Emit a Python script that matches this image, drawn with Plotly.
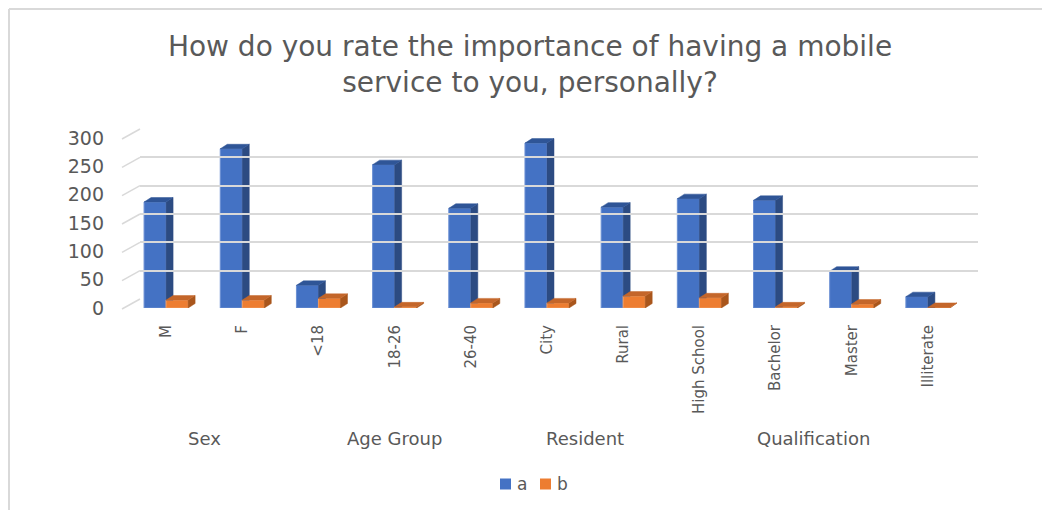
import plotly.graph_objects as go

# Survey responses by demographic group
categories = ["M", "F", "<18", "18-26", "26-40", "City", "Rural",
              "High School", "Bachelor", "Master", "Illiterate"]
groups = ["Sex", "Age Group", "Resident", "Qualification"]
group_members = [["M", "F"], ["<18", "18-26", "26-40"], ["City", "Rural"],
                 ["High School", "Bachelor", "Master", "Illiterate"]]
series_names = ["a", "b"]
series_a = [187, 281, 40, 253, 176, 291, 178, 193, 190, 65, 20]
series_b = [14, 14, 17, 2, 9, 9, 21, 18, 2, 7, 1]
y_ticks = [0, 50, 100, 150, 200, 250, 300]

W, H = 1042, 510
TEXT = "#595959"
FONT = "DejaVu Sans"

# front plane (bars) and back wall (gridlines), in pixels
FX0, FX1 = 128, 966
FY0, FY1 = 308, 138          # value 0 and value 300
BX0, BX1 = 140, 978
BY0, BY1 = 299, 129
YMAX = 300

n = len(categories)
bar_w = 0.289                # width of one bar in category units
cat_px = (FX1 - FX0) / n
dxu = 7 / cat_px             # depth offset of the 3-D faces
dyu = 4.5 * YMAX / (FY0 - FY1)

colors = {
    "a": dict(front="#4472C4", side="#2C4B82", top="#2F5597", edge="#6A8FD3"),
    "b": dict(front="#ED7D31", side="#A9561C", top="#C4662A", edge="#F19A5C"),
}

fig = go.Figure()

# invisible trace so the back-wall subplot is drawn
fig.add_trace(go.Scatter(x=[0], y=[0], xaxis="x2", yaxis="y2", mode="markers",
                         marker=dict(opacity=0), showlegend=False, hoverinfo="skip"))

# front faces
for name, vals in zip(series_names, (series_a, series_b)):
    c = colors[name]
    fig.add_trace(go.Bar(
        x=list(range(n)), y=vals, name=name, showlegend=False,
        marker=dict(color=c["front"], line=dict(color=c["edge"], width=1)),
        width=bar_w, offset=-bar_w if name == "a" else 0,
    ))


def poly(xs, ys, color):
    fig.add_trace(go.Scatter(x=xs + [xs[0]], y=ys + [ys[0]], fill="toself",
                             fillcolor=color, mode="lines",
                             line=dict(color=color, width=0.5),
                             showlegend=False, hoverinfo="skip"))


# side and top faces, series a first so series b sits in front of it
for i in range(n):
    a, b = series_a[i], series_b[i]
    ca = colors["a"]
    x0, x1 = i - bar_w, i
    poly([x1, x1 + dxu, x1 + dxu, x1], [b, b, a + dyu, a], ca["side"])
    poly([x0, x1, x1 + dxu, x0 + dxu], [a, a, a + dyu, a + dyu], ca["top"])
for i in range(n):
    b = series_b[i]
    cb = colors["b"]
    x0, x1 = i, i + bar_w
    poly([x1, x1 + dxu, x1 + dxu, x1], [0, dyu, b + dyu, b], cb["side"])
    poly([x0, x1, x1 + dxu, x0 + dxu], [b, b, b + dyu, b + dyu], cb["top"])

shapes = []
# wall edges from the front axis to the back wall
k = (FY0 - FY1) / YMAX
for v in y_ticks:
    yf = FY0 + 1 - v * k
    yb = BY0 - v * k
    shapes.append(dict(type="line", xref="paper", yref="paper",
                       x0=122 / W, y0=(H - yf) / H, x1=BX0 / W, y1=(H - yb) / H,
                       line=dict(color="#D9D9D9", width=1.5)))
# chart-area border (top and left)
shapes.append(dict(type="line", xref="paper", yref="paper", x0=9 / W, x1=1,
                   y0=(H - 9) / H, y1=(H - 9) / H, line=dict(color="#D9D9D9", width=2)))
shapes.append(dict(type="line", xref="paper", yref="paper", x0=9 / W, x1=9 / W,
                   y0=0, y1=(H - 9) / H, line=dict(color="#D9D9D9", width=2)))

annotations = []
for g, members in zip(groups, group_members):
    idx = [categories.index(m) for m in members]
    annotations.append(dict(text=g, x=sum(idx) / len(idx), xref="x",
                            y=(H - 438) / H, yref="paper", yanchor="middle",
                            showarrow=False,
                            font=dict(family=FONT, size=18, color=TEXT)))

# legend: swatch + label for each series
LEG_Y = 484
for name, sx in zip(series_names, (500, 540)):
    shapes.append(dict(type="rect", xref="paper", yref="paper",
                       x0=sx / W, x1=(sx + 11) / W,
                       y0=(H - LEG_Y - 5.5) / H, y1=(H - LEG_Y + 5.5) / H,
                       fillcolor=colors[name]["front"], line=dict(width=0)))
    annotations.append(dict(text=name, x=(sx + 15) / W, xref="paper", xanchor="left",
                            y=(H - LEG_Y) / H, yref="paper", yanchor="middle",
                            showarrow=False,
                            font=dict(family=FONT, size=17, color=TEXT)))

fig.update_layout(
    width=W, height=H,
    margin=dict(l=0, r=0, t=0, b=0, autoexpand=False),
    paper_bgcolor="white", plot_bgcolor="rgba(0,0,0,0)",
    barmode="overlay",
    title=dict(text="How do you rate the importance of having a mobile<br>service to you, personally?",
               x=530 / W, xanchor="center", y=(H - 56) / H, yanchor="middle",
               font=dict(family=FONT, size=28, color=TEXT)),
    xaxis=dict(domain=[FX0 / W, FX1 / W], range=[-0.5, n - 0.5],
               tickvals=list(range(n)), ticktext=categories, tickangle=-90,
               tickfont=dict(family=FONT, size=15, color=TEXT),
               showgrid=False, zeroline=False, showline=False, ticks="",
               ticklabelstandoff=13, anchor="y", automargin=False),
    yaxis=dict(domain=[(H - FY0) / H, (H - FY1) / H], range=[0, YMAX],
               tickvals=y_ticks, tickfont=dict(family=FONT, size=19, color=TEXT),
               showgrid=False, zeroline=False, showline=False, ticks="",
               ticklabelstandoff=23, anchor="x", automargin=False),
    xaxis2=dict(domain=[BX0 / W, BX1 / W], range=[-0.5, n - 0.5], anchor="y2",
                showgrid=False, zeroline=False, showticklabels=False, ticks="",
                automargin=False),
    yaxis2=dict(domain=[(H - BY0) / H, (H - BY1) / H], range=[0, YMAX], anchor="x2",
                tickvals=y_ticks, showgrid=True, gridcolor="#D9D9D9", gridwidth=1.5,
                zeroline=False, showticklabels=False, ticks="", automargin=False),
    showlegend=False,
    shapes=shapes, annotations=annotations,
)

fig.write_html("out.html")
